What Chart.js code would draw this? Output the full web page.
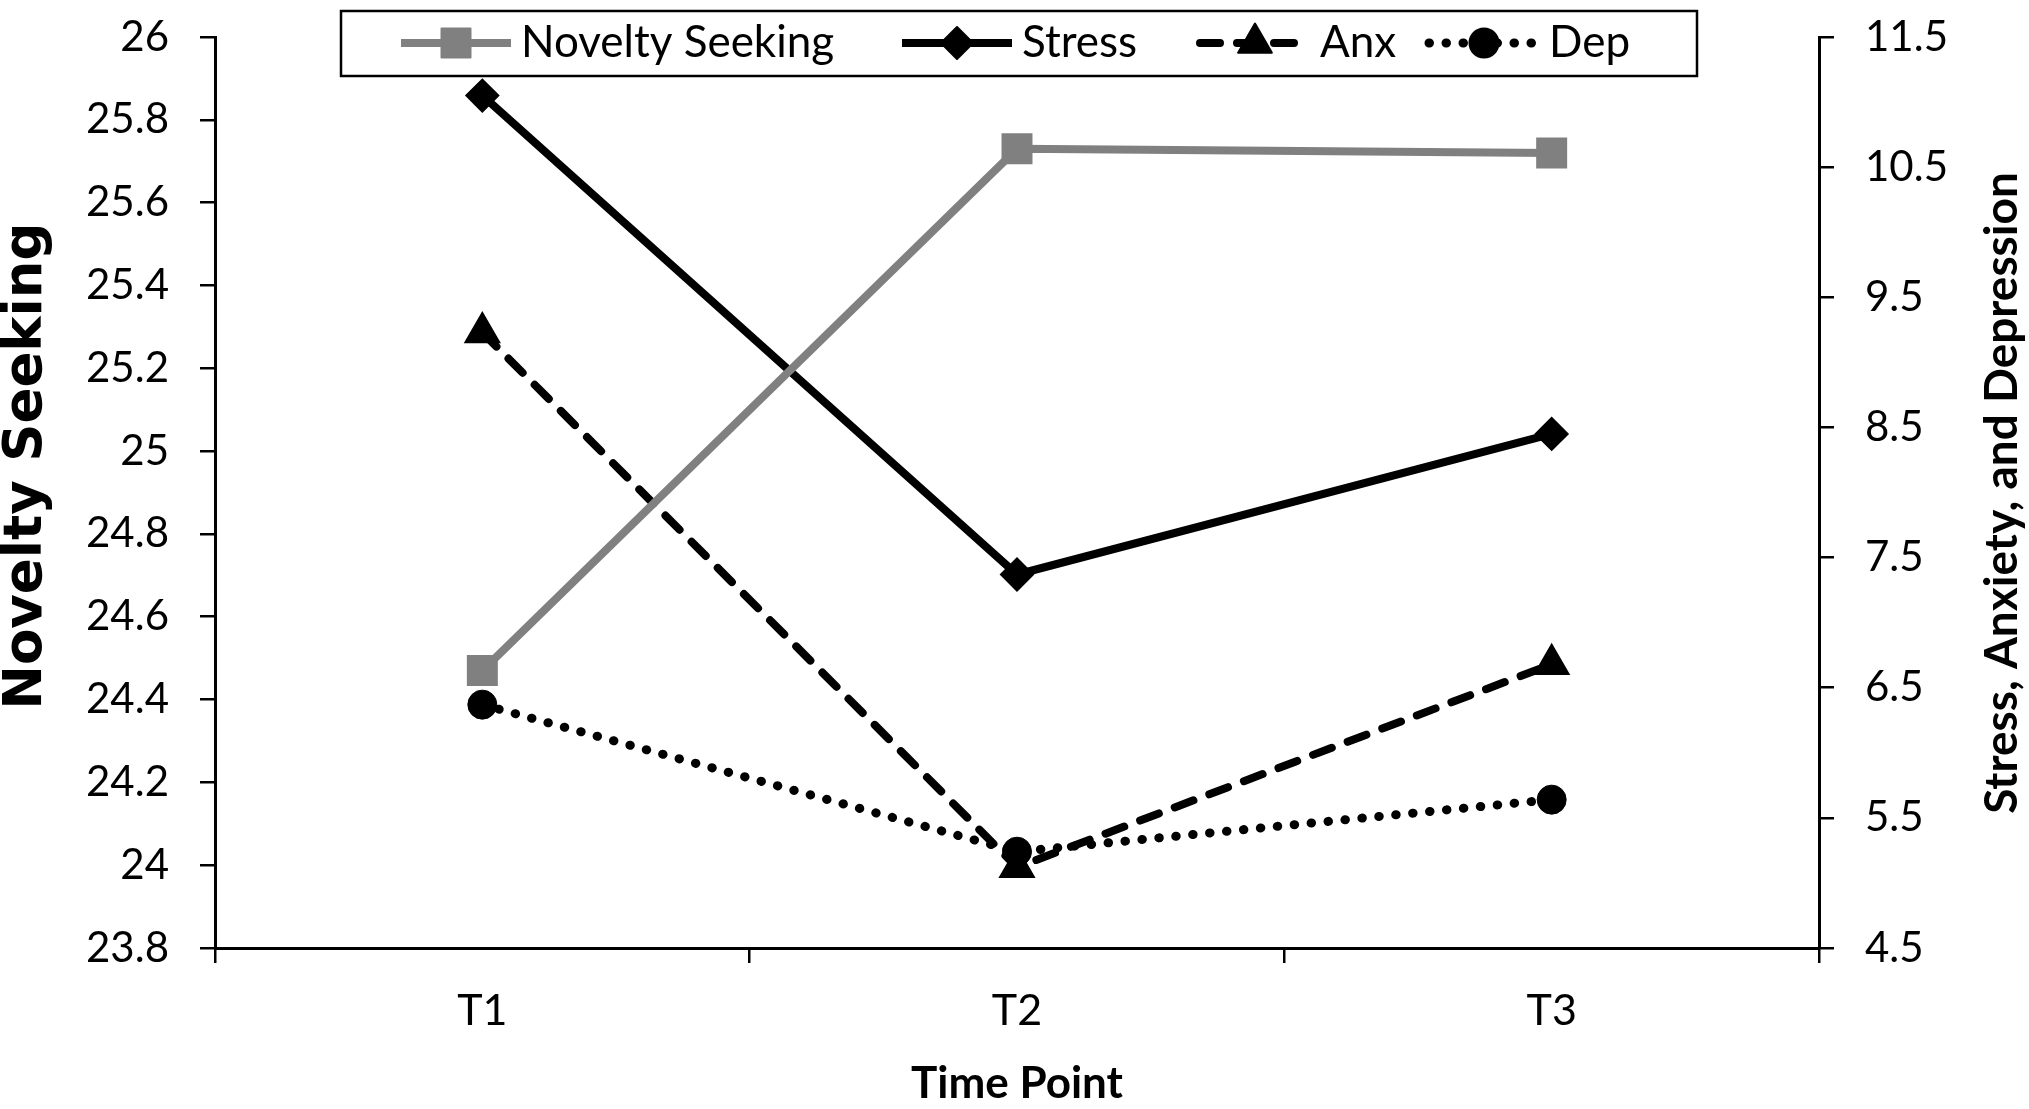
<!DOCTYPE html>
<html>
<head>
<meta charset="utf-8">
<script src="https://cdn.jsdelivr.net/npm/chart.js@4.4.1/dist/chart.umd.min.js"></script>
<style>
  html, body { margin: 0; padding: 0; background: #fff; }
  #wrap { width: 2029px; height: 1109px; }
</style>
</head>
<body>
<div id="wrap"><canvas id="c" width="2029" height="1109"></canvas></div>
<script>
// ---- data ----
const categories = ['T1', 'T2', 'T3'];
const noveltySeeking = [24.47, 25.73, 25.72];
const stress = [11.05, 7.37, 8.45];
const anxiety = [9.23, 5.12, 6.68];
const depression = [6.37, 5.24, 5.64];
const leftTicks = [23.8, 24, 24.2, 24.4, 24.6, 24.8, 25, 25.2, 25.4, 25.6, 25.8, 26];
const rightTicks = [4.5, 5.5, 6.5, 7.5, 8.5, 9.5, 10.5, 11.5];
const seriesNames = ['Novelty Seeking', 'Stress', 'Anx', 'Dep'];
const leftTitle = 'Novelty Seeking';
const rightTitle = 'Stress, Anxiety, and Depression';
const xTitle = 'Time Point';

const GRAY = '#808080';
const BLACK = '#000000';

function drawMarker(ctx, style, x, y, r, color) {
  ctx.save();
  ctx.fillStyle = color;
  ctx.strokeStyle = color;
  ctx.lineWidth = 2;
  ctx.lineJoin = 'round';
  ctx.setLineDash([]);
  ctx.beginPath();
  if (style === 'rect') {
    const s = r * Math.SQRT1_2;
    ctx.rect(x - s, y - s, 2 * s, 2 * s);
  } else if (style === 'rectRot') {
    ctx.moveTo(x, y - r); ctx.lineTo(x + r, y); ctx.lineTo(x, y + r); ctx.lineTo(x - r, y); ctx.closePath();
  } else if (style === 'triangle') {
    ctx.moveTo(x, y - r);
    ctx.lineTo(x + r * Math.sin(2 * Math.PI / 3), y + r / 2);
    ctx.lineTo(x - r * Math.sin(2 * Math.PI / 3), y + r / 2);
    ctx.closePath();
  } else {
    ctx.arc(x, y, r, 0, Math.PI * 2);
  }
  ctx.fill();
  ctx.stroke();
  ctx.restore();
}

const customPlugin = {
  id: 'custom',
  afterDraw(chart) {
    const ctx = chart.ctx;
    const area = chart.chartArea;
    // Y titles
    ctx.save();
    ctx.fillStyle = '#000';
    ctx.textAlign = 'center';
    ctx.textBaseline = 'middle';
    ctx.font = 'bold 53px "DejaVu Sans"';
    ctx.translate(27, 466);
    ctx.rotate(-Math.PI / 2);
    ctx.fillText(leftTitle, 0, 0);
    ctx.restore();

    ctx.save();
    ctx.fillStyle = '#000';
    ctx.textAlign = 'center';
    ctx.textBaseline = 'middle';
    ctx.font = 'bold 46px Lato';
    ctx.translate(2002, 493);
    ctx.rotate(-Math.PI / 2);
    ctx.fillText(rightTitle, 0, 0);
    ctx.restore();

    // X title
    ctx.save();
    ctx.fillStyle = '#000';
    ctx.textAlign = 'center';
    ctx.textBaseline = 'middle';
    ctx.font = 'bold 44px Lato';
    ctx.fillText(xTitle, (area.left + area.right) / 2, 1084);
    ctx.restore();

    // Legend
    const bx = 341, by = 11, bw = 1356, bh = 65;
    ctx.save();
    ctx.fillStyle = '#fff';
    ctx.fillRect(bx, by, bw, bh);
    ctx.strokeStyle = '#000';
    ctx.lineWidth = 2.5;
    ctx.strokeRect(bx, by, bw, bh);
    ctx.restore();
    const textXs = [521, 1022, 1320, 1549];
    const ly = 43;
    chart.data.datasets.forEach((ds, i) => {
      const tx = textXs[i];
      const x1 = tx - 120, x2 = tx - 10;
      ctx.save();
      ctx.strokeStyle = ds.borderColor;
      ctx.lineWidth = ds.borderWidth;
      ctx.lineCap = ds.borderCapStyle || 'butt';
      ctx.setLineDash(ds.borderDash || []);
      ctx.beginPath();
      ctx.moveTo(x1, ly);
      ctx.lineTo(x2, ly);
      ctx.stroke();
      ctx.restore();
      drawMarker(ctx, ds.pointStyle, (x1 + x2) / 2, ly, ds.pointRadius, ds.pointBackgroundColor);
      ctx.save();
      ctx.fillStyle = '#000';
      ctx.font = '44px Lato';
      ctx.textAlign = 'left';
      ctx.textBaseline = 'middle';
      ctx.fillText(ds.label, tx, ly);
      ctx.restore();
    });
  }
};

function fixY(s, w) { s.width = w; s.paddingTop = 0; s.paddingBottom = 0; }

const chart = new Chart(document.getElementById('c'), {
  type: 'line',
  data: {
    labels: categories,
    datasets: [
      {
        label: seriesNames[0], data: noveltySeeking, yAxisID: 'y',
        borderColor: GRAY, backgroundColor: GRAY, borderWidth: 8,
        pointStyle: 'rect', pointRadius: 20.5, pointBackgroundColor: GRAY,
        pointBorderColor: GRAY, pointBorderWidth: 2, borderJoinStyle: 'round'
      },
      {
        label: seriesNames[1], data: stress, yAxisID: 'y2',
        borderColor: BLACK, backgroundColor: BLACK, borderWidth: 8,
        pointStyle: 'rectRot', pointRadius: 16, pointBackgroundColor: BLACK,
        pointBorderColor: BLACK, pointBorderWidth: 2
      },
      {
        label: seriesNames[2], data: anxiety, yAxisID: 'y2',
        borderColor: BLACK, backgroundColor: BLACK, borderWidth: 8,
        borderDash: [20, 17], borderCapStyle: 'round',
        pointStyle: 'triangle', pointRadius: 19.5, pointBackgroundColor: BLACK,
        pointBorderColor: BLACK, pointBorderWidth: 2
      },
      {
        label: seriesNames[3], data: depression, yAxisID: 'y2',
        borderColor: BLACK, backgroundColor: BLACK, borderWidth: 9,
        borderDash: [0.5, 16.5], borderCapStyle: 'round',
        pointStyle: 'circle', pointRadius: 14.5, pointBackgroundColor: BLACK,
        pointBorderColor: BLACK, pointBorderWidth: 1
      }
    ]
  },
  options: {
    responsive: false,
    animation: false,
    devicePixelRatio: 1,
    layout: { padding: { top: 37, left: 0, right: 0, bottom: 0 } },
    plugins: { legend: { display: false }, tooltip: { enabled: false } },
    scales: {
      x: {
        type: 'category',
        offset: true,
        grid: { offset: true, drawOnChartArea: false, drawTicks: true, tickLength: 15, color: '#000', lineWidth: 2.5 },
        border: { display: true, color: '#000', width: 3 },
        ticks: { color: '#000', font: { family: 'Lato', size: 43 }, padding: 22 },
        afterFit(s) { s.height = 161; s.paddingLeft = 0; s.paddingRight = 0; }
      },
      y: {
        type: 'linear', position: 'left', min: 23.8, max: 26,
        grid: { drawOnChartArea: false, drawTicks: true, tickLength: 15, color: '#000', lineWidth: 2.5 },
        border: { display: true, color: '#000', width: 3 },
        ticks: { color: '#000', font: { family: 'Lato', size: 42 }, padding: 31,
          callback: (v) => String(+Number(v).toFixed(1)) },
        afterBuildTicks(s) { s.ticks = leftTicks.map(v => ({ value: v })); },
        afterFit(s) { fixY(s, 215); }
      },
      y2: {
        type: 'linear', position: 'right', min: 4.5, max: 11.5,
        grid: { drawOnChartArea: false, drawTicks: true, tickLength: 15, color: '#000', lineWidth: 2.5 },
        border: { display: true, color: '#000', width: 3 },
        ticks: { color: '#000', font: { family: 'Lato', size: 42 }, padding: 31,
          callback: (v) => Number(v).toFixed(1) },
        afterBuildTicks(s) { s.ticks = rightTicks.map(v => ({ value: v })); },
        afterFit(s) { fixY(s, 210); }
      }
    }
  },
  plugins: [customPlugin]
});
</script>
</body>
</html>
